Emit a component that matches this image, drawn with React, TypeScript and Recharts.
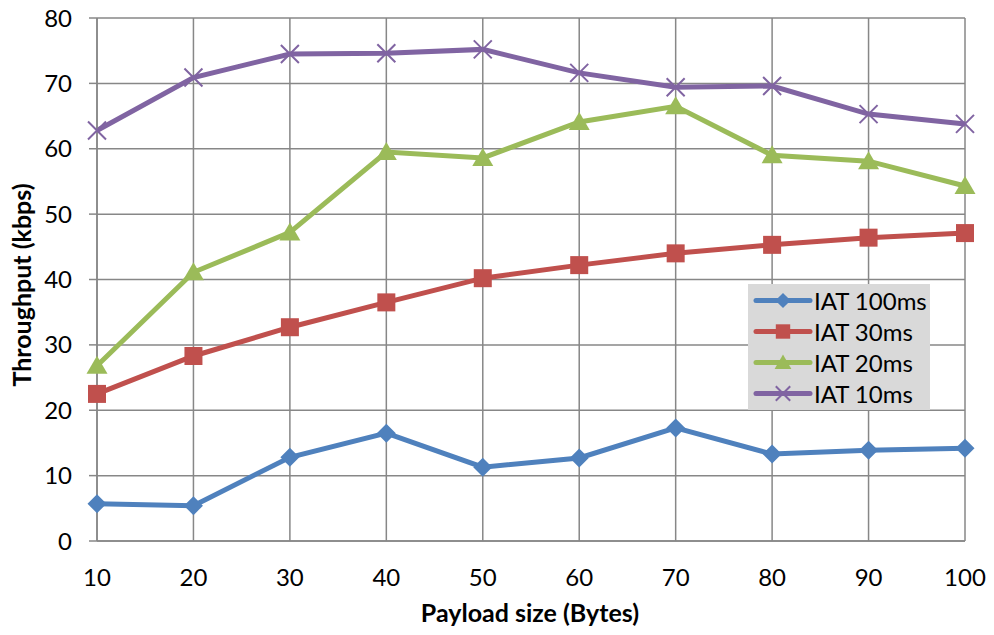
import { LineChart, Line, XAxis, YAxis, CartesianGrid } from "recharts";

// Payload sizes (Bytes) on the x axis
const payloadSizes = [10, 20, 30, 40, 50, 60, 70, 80, 90, 100];

// Throughput (kbps) per inter-arrival time
const iat100 = [5.7, 5.4, 12.8, 16.5, 11.3, 12.7, 17.3, 13.3, 13.9, 14.2];
const iat30 = [22.5, 28.3, 32.7, 36.5, 40.2, 42.2, 44.0, 45.3, 46.4, 47.1];
const iat20 = [26.8, 41.1, 47.2, 59.5, 58.6, 64.1, 66.5, 59.0, 58.1, 54.3];
const iat10 = [62.8, 70.9, 74.5, 74.6, 75.2, 71.6, 69.4, 69.6, 65.3, 63.8];

const yTicks = [0, 10, 20, 30, 40, 50, 60, 70, 80];

const FONT = "Lato, 'Open Sans', sans-serif";
const GRID = "#878787";

type Shape = "diamond" | "square" | "triangle" | "cross";

const series: { key: string; name: string; color: string; shape: Shape }[] = [
  { key: "iat100", name: "IAT 100ms", color: "#4F81BD", shape: "diamond" },
  { key: "iat30", name: "IAT 30ms", color: "#C0504D", shape: "square" },
  { key: "iat20", name: "IAT 20ms", color: "#9BBB59", shape: "triangle" },
  { key: "iat10", name: "IAT 10ms", color: "#8064A2", shape: "cross" },
];

const data = payloadSizes.map((size, i) => ({
  size,
  iat100: iat100[i],
  iat30: iat30[i],
  iat20: iat20[i],
  iat10: iat10[i],
}));

// dibuja el marcador de cada serie
function Marker({ cx, cy, shape, color, s = 1 }: { cx: number; cy: number; shape: Shape; color: string; s?: number }) {
  if (cx == null || cy == null) return null;
  if (shape === "diamond") {
    const r = 9.5 * s;
    return <path d={`M${cx},${cy - r}L${cx + r},${cy}L${cx},${cy + r}L${cx - r},${cy}Z`} fill={color} />;
  }
  if (shape === "square") {
    const h = 9 * s;
    return <rect x={cx - h} y={cy - h} width={h * 2} height={h * 2} fill={color} />;
  }
  if (shape === "triangle") {
    const w = 10.5 * s;
    return <path d={`M${cx},${cy - 10 * s}L${cx + w},${cy + 8 * s}L${cx - w},${cy + 8 * s}Z`} fill={color} />;
  }
  const r = 9 * s;
  return (
    <path
      d={`M${cx - r},${cy - r}L${cx + r},${cy + r}M${cx - r},${cy + r}L${cx + r},${cy - r}`}
      stroke={color}
      strokeWidth={2}
      fill="none"
    />
  );
}

// leyenda fija sobre el gráfico, como en el original
function LegendBox() {
  return (
    <div
      style={{
        position: "absolute",
        left: 748,
        top: 284,
        background: "#D9D9D9",
        width: 182,
        height: 126,
        paddingTop: 1,
        boxSizing: "border-box",
      }}
    >
      {series.map((s) => (
        <div key={s.key} style={{ display: "flex", alignItems: "center", height: 31 }}>
          <svg width={66} height={31}>
            <line x1={8} y1={15.5} x2={62} y2={15.5} stroke={s.color} strokeWidth={5} strokeLinecap="round" />
            <Marker cx={35} cy={15.5} shape={s.shape} color={s.color} s={0.8} />
          </svg>
          <span style={{ fontFamily: FONT, fontSize: 24, color: "#000" }}>{s.name}</span>
        </div>
      ))}
    </div>
  );
}

export default function App() {
  return (
    <div style={{ position: "absolute", left: 0, top: 0, width: 994, height: 635, background: "#fff" }}>
      <LineChart
        width={994}
        height={635}
        data={data}
        margin={{ top: 18, right: 29, left: 0, bottom: 0 }}
        style={{ fontFamily: FONT }}
      >
        <CartesianGrid stroke={GRID} strokeWidth={1.5} />
        <XAxis
          dataKey="size"
          type="number"
          domain={[10, 100]}
          ticks={payloadSizes}
          height={94}
          tickSize={0}
          tickMargin={28}
          axisLine={{ stroke: GRID, strokeWidth: 1.5 }}
          tick={{ fill: "#000", fontSize: 24, fontFamily: FONT }}
          label={{
            content: () => (
              <text x={530} y={622} textAnchor="middle" fontFamily={FONT} fontSize={25} fontWeight="bold" fill="#000">
                Payload size (Bytes)
              </text>
            ),
          }}
        />
        <YAxis
          domain={[0, 80]}
          ticks={yTicks}
          width={97}
          tickSize={8}
          tickMargin={17}
          axisLine={{ stroke: GRID, strokeWidth: 1.5 }}
          tickLine={{ stroke: GRID, strokeWidth: 1.5 }}
          tick={{ fill: "#000", fontSize: 24, fontFamily: FONT }}
          label={{
            content: () => (
              <text
                x={21}
                y={285}
                transform="rotate(-90 21 285)"
                textAnchor="middle"
                dominantBaseline="central"
                fontFamily={FONT}
                fontSize={25}
                fontWeight="bold"
                fill="#000"
              >
                Throughput (kbps)
              </text>
            ),
          }}
        />
        {series.map((s) => (
          <Line
            key={s.key}
            dataKey={s.key}
            name={s.name}
            stroke={s.color}
            strokeWidth={5}
            isAnimationActive={false}
            dot={(p: any) => <Marker key={`${s.key}-${p.index}`} cx={p.cx} cy={p.cy} shape={s.shape} color={s.color} />}
            activeDot={false}
          />
        ))}
      </LineChart>
      <LegendBox />
    </div>
  );
}
